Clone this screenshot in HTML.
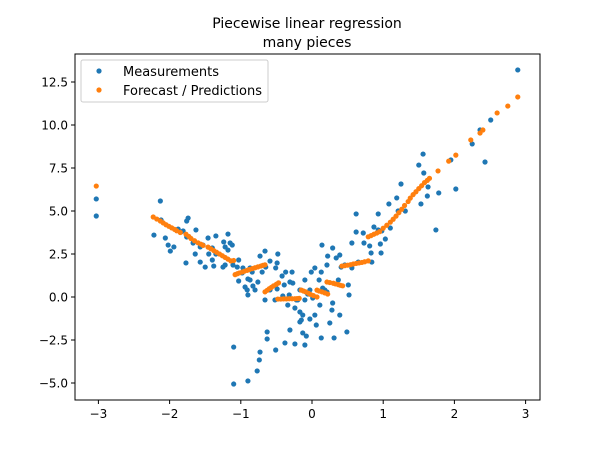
<!DOCTYPE html>
<html><head><meta charset="utf-8"><style>
html,body{margin:0;padding:0;background:#fff;}
svg{display:block;font-family:"DejaVu Sans","Liberation Sans",sans-serif;}
</style></head><body>
<svg id="chart" width="600" height="450">
<rect x="0" y="0" width="600" height="450" fill="#fff"/>
<text x="307" y="28" font-size="14" text-anchor="middle">Piecewise linear regression</text>
<text x="307" y="47" font-size="14" text-anchor="middle">many pieces</text>
<g id="marks"></g>
<g id="axes"></g>
<rect x="75" y="54" width="465" height="346" fill="none" stroke="#000" stroke-width="1"/>
<g>
<rect x="81" y="60" width="187" height="42" rx="2" fill="#fff" fill-opacity="0.8" stroke="#ccc"/>
<circle cx="99" cy="71" r="2.6" fill="#1f77b4"/>
<text x="123" y="76" font-size="13">Measurements</text>
<circle cx="99" cy="90" r="2.6" fill="#ff7f0e"/>
<text x="123" y="95" font-size="13">Forecast / Predictions</text>
</g>
</svg>
<script>
const xTicks=[-3,-2,-1,0,1,2,3];
const yTicks=[-5,-2.5,0,2.5,5,7.5,10,12.5];
const yTickLabels=["\u22125.0","\u22122.5","0.0","2.5","5.0","7.5","10.0","12.5"];
const xTickLabels=["\u22123","\u22122","\u22121","0","1","2","3"];
const measX=[-3.03,-3.03,-2.13,-2.22,-2.12,-2.06,-1.99,-1.94,-1.76,-1.76,-1.77,-1.63,-1.64,-1.57,-1.57,-1.46,-1.45,-1.40,-1.35,-1.35,-1.24,-1.18,-1.15,-1.22,-1.25,-1.18,-1.12,-1.05,-1.03,-0.98,-0.94,-0.90,-0.84,-0.91,-0.83,-0.73,-0.66,-0.65,-0.59,-0.49,-0.48,-0.51,-0.42,-0.37,-0.49,-0.39,-0.32,-0.28,-0.27,-0.24,-0.17,-0.06,0.01,-0.17,-0.13,-0.08,-0.10,-0.24,-0.31,-0.38,-0.51,-0.63,-0.63,-0.74,-0.73,-0.77,-1.10,-1.10,-0.90,2.89,2.51,2.36,2.43,2.25,1.95,2.02,1.78,1.74,1.53,1.31,0.93,0.83,0.65,0.52,0.49,0.31,0.13,0.62,0.62,0.81,0.56,0.84,0.46,0.39,0.41,0.37,0.18,0.29,0.25,0.39,0.28,0.04,0.06,0.11,-0.03,-0.13,0.10,0.13,0.14,0.29,0.22,-0.01,0.04,0.15,0.21,0.34,0.56,0.72,0.87,0.93,1.08,1.21,1.10,0.96,1.19,0.98,1.03,0.97,0.73,0.51,0.21,-0.03,-0.10,-0.20,-0.17,-0.31,-0.22,-0.41,-0.34,-0.10,-0.15,-0.59,-0.66,-0.80,-0.90,-0.52,-0.70,-0.76,-0.87,-0.97,-1.03,-1.11,-1.40,-1.50,-1.74,-1.84,-1.88,-2.02,-1.81,-1.67,-1.53,-1.38,-1.22,-0.87,1.56,1.50,1.57,1.25,1.63,1.62];
const measY=[5.70,4.71,5.58,3.60,4.48,3.43,2.67,2.91,4.42,3.49,1.98,3.90,2.50,2.91,2.03,3.43,2.50,2.15,3.55,2.50,3.20,3.66,3.14,1.86,1.74,2.73,3.02,1.74,0.93,1.40,0.58,1.05,1.45,0.41,0.64,2.38,2.67,1.74,2.09,1.98,2.50,1.69,1.22,1.45,0.47,0.70,0.12,1.45,0.81,-0.64,-1.45,0.17,-0.06,-0.87,-2.09,-2.27,-2.79,-2.73,-1.92,-2.67,-3.08,-2.03,-2.44,-3.66,-3.20,-4.30,-2.91,-5.06,-4.88,13.20,10.29,9.71,7.85,8.90,7.97,6.28,6.05,3.90,5.41,5.00,4.83,2.56,2.03,0.12,-2.03,-2.38,-2.38,4.83,3.78,2.97,3.14,2.03,1.86,2.44,1.74,0.99,0.41,-0.35,-1.51,-1.05,-0.76,-1.05,-1.63,-0.47,-1.28,-1.05,0.99,1.45,3.02,2.85,2.38,1.45,1.69,0.52,1.86,2.27,1.69,3.72,4.07,3.90,5.41,5.00,4.01,3.08,5.76,3.84,3.37,2.56,3.14,0.70,0.29,0.41,-0.17,-0.17,0.41,0.87,-0.17,0.06,-0.47,0.99,-1.34,0.41,-0.17,0.41,0.12,-0.17,1.45,0.87,0.99,1.69,2.15,1.86,2.85,1.74,4.59,3.78,3.95,3.02,3.84,3.14,3.02,1.80,2.91,1.69,8.31,7.67,7.21,6.57,6.40,5.87];
const predX=[-3.03,-2.23,-2.18,-2.13,-2.09,-2.05,-2.01,-1.97,-1.93,-1.90,-1.85,-1.77,-1.73,-1.70,-1.65,-1.60,-1.56,-1.53,-1.46,-1.42,-1.38,-1.34,-1.30,-1.26,-1.22,-1.18,-1.14,-1.10,-1.08,-1.05,-1.02,-0.98,-0.95,-0.91,-0.88,-0.84,-0.80,-0.76,-0.72,-0.69,-0.66,-0.66,-0.63,-0.60,-0.57,-0.54,-0.50,-0.47,-0.48,-0.44,-0.40,-0.36,-0.32,-0.28,-0.24,-0.21,-0.18,-0.15,-0.12,-0.09,-0.05,-0.02,0.02,0.07,0.07,0.10,0.14,0.18,0.22,0.21,0.25,0.30,0.33,0.37,0.40,0.43,0.42,0.46,0.50,0.54,0.58,0.62,0.66,0.70,0.74,0.79,0.79,0.83,0.87,0.91,0.95,1.00,1.05,1.10,1.14,1.18,1.22,1.26,1.30,1.35,1.38,1.42,1.46,1.50,1.54,1.58,1.62,1.65,1.77,1.92,2.02,2.23,2.36,2.40,2.60,2.75,2.89];
const predY=[6.45,4.65,4.53,4.42,4.31,4.20,4.11,4.02,3.93,3.85,3.75,3.65,3.52,3.40,3.27,3.15,3.07,3.00,2.90,2.80,2.70,2.60,2.50,2.40,2.30,2.20,2.10,2.12,1.30,1.35,1.40,1.45,1.50,1.55,1.60,1.65,1.70,1.75,1.80,1.84,1.87,0.30,0.39,0.48,0.56,0.65,0.74,0.82,-0.12,-0.12,-0.11,-0.11,-0.10,-0.10,-0.10,-0.09,-0.08,0.40,0.35,0.30,0.22,0.15,0.08,0.00,0.40,0.35,0.30,0.24,0.17,0.87,0.84,0.80,0.76,0.72,0.68,0.65,1.80,1.82,1.85,1.88,1.92,1.95,1.98,2.01,2.05,2.10,3.50,3.57,3.65,3.72,3.80,4.00,4.17,4.35,4.52,4.70,4.90,5.10,5.32,5.55,5.75,5.95,6.12,6.30,6.47,6.65,6.78,6.90,7.33,7.90,8.25,9.13,9.53,9.71,10.70,11.10,11.63];

const X0=75,X1=540,Y0=54,Y1=400;
function sx(v){return 312+v*71.2;}
function sy(v){return 297-v*17.2;}
const NS="http://www.w3.org/2000/svg";
const marks=document.getElementById('marks');
const axes=document.getElementById('axes');
function dot(x,y,c,name){
  const e=document.createElementNS(NS,'circle');
  e.setAttribute('cx',sx(x));e.setAttribute('cy',sy(y));e.setAttribute('r',2.6);e.setAttribute('fill',c);
  
  
  marks.appendChild(e);
}
for(let i=0;i<measX.length;i++){dot(measX[i],measY[i],'#1f77b4','measurement-point');}
for(let i=0;i<predX.length;i++){dot(predX[i],predY[i],'#ff7f0e','prediction-point');}
xTicks.forEach((t,i)=>{
  const l=document.createElementNS(NS,'line');
  l.setAttribute('x1',sx(t));l.setAttribute('x2',sx(t));l.setAttribute('y1',Y1);l.setAttribute('y2',Y1+4);l.setAttribute('stroke','#000');
  
  
  axes.appendChild(l);
  const tx=document.createElementNS(NS,'text');
  tx.setAttribute('x',sx(t));tx.setAttribute('y',Y1+18);tx.setAttribute('font-size','12');tx.setAttribute('text-anchor','middle');
  tx.textContent=xTickLabels[i];
  
  
  axes.appendChild(tx);
});
yTicks.forEach((t,i)=>{
  const l=document.createElementNS(NS,'line');
  l.setAttribute('x1',X0-4);l.setAttribute('x2',X0);l.setAttribute('y1',sy(t));l.setAttribute('y2',sy(t));l.setAttribute('stroke','#000');
  
  
  axes.appendChild(l);
  const tx=document.createElementNS(NS,'text');
  tx.setAttribute('x',X0-7);tx.setAttribute('y',sy(t)+4.5);tx.setAttribute('font-size','12');tx.setAttribute('text-anchor','end');
  tx.textContent=yTickLabels[i];
  
  
  axes.appendChild(tx);
});
</script>
</body></html>
